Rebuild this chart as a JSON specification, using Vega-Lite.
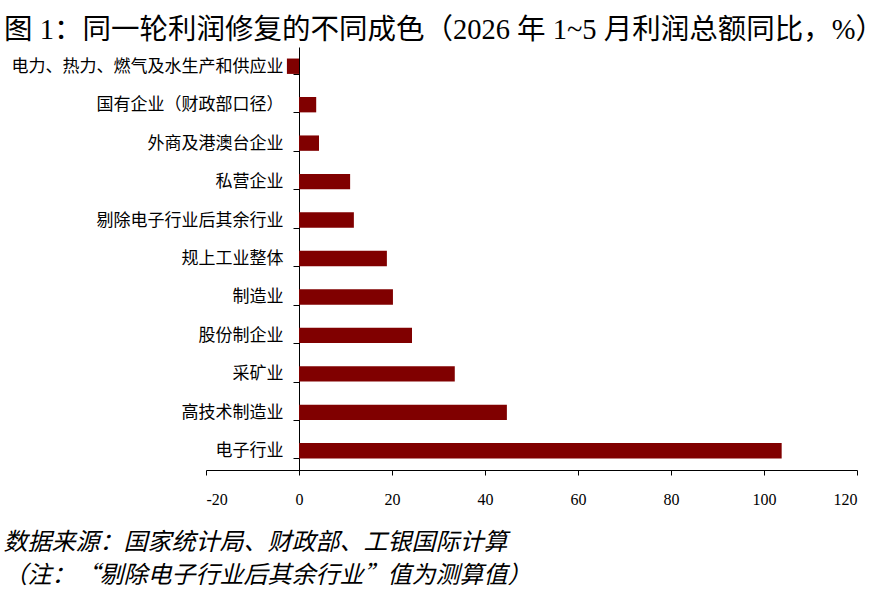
{
  "$schema": "https://vega.github.io/schema/vega-lite/v6.json",
  "autosize": "none",
  "width": 651,
  "height": 423,
  "padding": {"left": 206, "top": 47, "right": 27, "bottom": 127},
  "background": "white",
  "title": {
    "text": "图 1：同一轮利润修复的不同成色（2026 年 1~5 月利润总额同比，%）",
    "anchor": "start",
    "frame": "group",
    "dx": -202,
    "dy": 37,
    "offset": 8,
    "baseline": "alphabetic",
    "font": "Liberation Serif, Noto Sans CJK SC",
    "fontSize": 28.5,
    "fontWeight": "normal",
    "color": "black"
  },
  "data": {
    "values": [
      {"cat": "电力、热力、燃气及水生产和供应业", "v": -2.6},
      {"cat": "国有企业（财政部口径）", "v": 3.7},
      {"cat": "外商及港澳台企业", "v": 4.3},
      {"cat": "私营企业", "v": 11.0},
      {"cat": "剔除电子行业后其余行业", "v": 11.8},
      {"cat": "规上工业整体", "v": 18.9},
      {"cat": "制造业", "v": 20.2},
      {"cat": "股份制企业", "v": 24.3},
      {"cat": "采矿业", "v": 33.5},
      {"cat": "高技术制造业", "v": 44.7},
      {"cat": "电子行业", "v": 103.8}
    ]
  },
  "mark": {"type": "bar", "color": "#800000"},
  "encoding": {
    "y": {
      "field": "cat",
      "type": "nominal",
      "sort": null,
      "scale": {"paddingInner": 0.6, "paddingOuter": 0.3},
      "axis": {
        "title": null,
        "offset": -93,
        "tickBand": "extent",
        "tickSize": 6,
        "tickColor": "black",
        "domainColor": "black",
        "labelPadding": 10,
        "labelFont": "Noto Sans CJK SC",
        "labelFontSize": 17,
        "labelColor": "black",
        "labelLimit": 400
      }
    },
    "x": {
      "field": "v",
      "type": "quantitative",
      "scale": {"domain": [-20, 120], "nice": false, "zero": false},
      "axis": {
        "values": [-20, 0, 20, 40, 60, 80, 100, 120],
        "labelExpr": "datum.value + ''",
        "grid": false,
        "tickSize": 5,
        "tickColor": "black",
        "domainColor": "black",
        "labelFont": "Liberation Serif",
        "labelFontSize": 16,
        "labelColor": "black",
        "labelPadding": 16,
        "title": ["数据来源：国家统计局、财政部、工银国际计算", "（注：“剔除电子行业后其余行业”值为测算值）"],
        "titleX": -203,
        "titleY": 79,
        "titleAlign": "left",
        "titleAnchor": "start",
        "titleBaseline": "alphabetic",
        "titleFont": "Noto Sans CJK SC",
        "titleFontSize": 24,
        "titleFontStyle": "italic",
        "titleFontWeight": "normal",
        "titleColor": "black",
        "titleLineHeight": 33
      }
    }
  },
  "config": {"view": {"stroke": null}}
}
